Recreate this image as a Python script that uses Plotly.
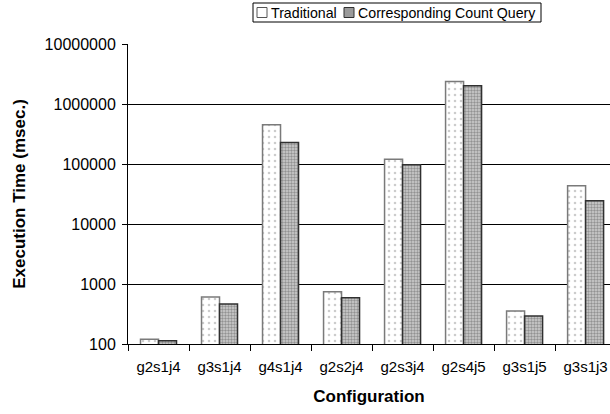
import plotly.graph_objects as go

configs = ["g2s1j4", "g3s1j4", "g4s1j4", "g2s2j4", "g2s3j4", "g2s4j5", "g3s1j5", "g3s1j3"]
traditional = [120, 610, 450000, 740, 120000, 2370000, 355, 43500]
count_query = [113, 465, 228000, 590, 97000, 2020000, 293, 24500]

series_names = ["Traditional", "Corresponding Count Query"]

y_ticks = [100, 1000, 10000, 100000, 1000000, 10000000]
y_tick_text = [str(v) for v in y_ticks]

font_family = "Liberation Sans, Arial, sans-serif"

W, H = 610, 414
M_L, M_R, M_T, M_B = 128, 0, 44, 70
plot_w = W - M_L - M_R
plot_h = H - M_T - M_B


def px_x(px):
    """Pixel column -> paper x (relative to the plot area)."""
    return (px - M_L) / plot_w


def px_y(py):
    """Pixel row -> paper y (relative to the plot area)."""
    return (H - M_B - py) / plot_h


trad_style = dict(
    color="white",
    line=dict(color="#7a7a7a", width=1.5),
    pattern=dict(shape=".", fgcolor="#9a9a9a", bgcolor="white", size=6, solidity=0.15),
)
count_style = dict(
    color="#c0c0c0",
    line=dict(color="#303030", width=1.5),
    pattern=dict(shape=".", fgcolor="#555555", bgcolor="#cfcfcf", size=3, solidity=0.5),
)

fig = go.Figure()
fig.add_trace(go.Bar(name=series_names[0], x=configs, y=traditional,
                     marker=trad_style, showlegend=False))
fig.add_trace(go.Bar(name=series_names[1], x=configs, y=count_query,
                     marker=count_style, showlegend=False))

# Compact boxed legend across the top
leg_font = 14.2
leg_left, leg_right, leg_top, leg_bot = 253, 541, 3, 22
mid = (leg_top + leg_bot) / 2
shapes = [
    dict(type="rect", xref="paper", yref="paper",
         x0=px_x(leg_left), x1=px_x(leg_right), y0=px_y(leg_bot), y1=px_y(leg_top),
         line=dict(color="black", width=1), fillcolor="white", layer="above"),
]
annotations = []
items = [
    (series_names[0], leg_left + 4, "white", "#555555"),
    (series_names[1], leg_left + 91, "#9a9a9a", "#303030"),
]
for name, sx, fill, edge in items:
    shapes.append(dict(type="rect", xref="paper", yref="paper",
                       x0=px_x(sx), x1=px_x(sx + 10), y0=px_y(mid + 5), y1=px_y(mid - 5),
                       line=dict(color=edge, width=1), fillcolor=fill, layer="above"))
    annotations.append(dict(text=name, xref="paper", yref="paper",
                            x=px_x(sx + 12), y=px_y(mid), xanchor="left", yanchor="middle",
                            showarrow=False, font=dict(size=leg_font, color="black")))

fig.update_layout(
    width=W, height=H,
    margin=dict(l=M_L, r=M_R, t=M_T, b=M_B),
    paper_bgcolor="white", plot_bgcolor="white",
    barmode="group", bargap=0.41, bargroupgap=0,
    font=dict(family=font_family, size=15, color="black"),
    showlegend=False,
    shapes=shapes,
    annotations=annotations,
    xaxis=dict(
        range=[-0.5, 7.40],
        showline=True, linecolor="black", linewidth=1,
        ticks="outside", tickson="boundaries", ticklen=6, tickcolor="black",
        showgrid=False, ticklabelstandoff=9,
        title=dict(text="<b>Configuration</b>", font=dict(size=17), standoff=16),
        tickfont=dict(size=15),
    ),
    yaxis=dict(
        type="log", range=[2, 7],
        tickvals=y_ticks, ticktext=y_tick_text,
        showline=True, linecolor="black", linewidth=1,
        ticks="outside", ticklen=5, tickcolor="black",
        showgrid=True, gridcolor="black", gridwidth=1,
        ticklabelstandoff=3,
        title=dict(text="<b>Execution Time (msec.)</b>", font=dict(size=17), standoff=14),
        tickfont=dict(size=16),
    ),
)

fig.write_html("out.html")
